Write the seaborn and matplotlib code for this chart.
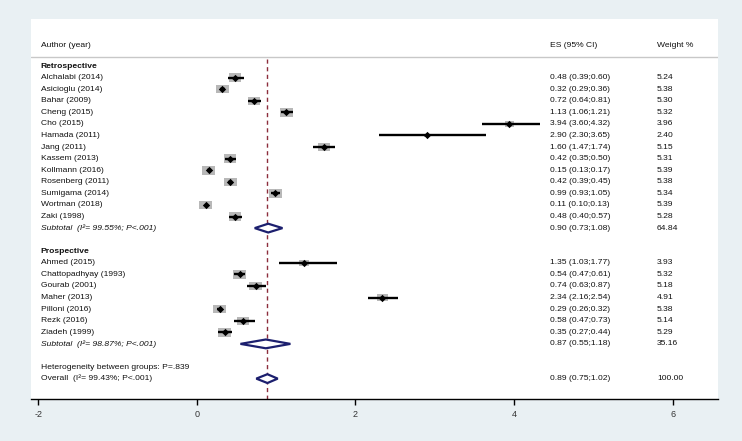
import numpy as np
import seaborn as sns
import matplotlib.pyplot as plt
from matplotlib.path import Path

# study rows
retro_names = ['Alchalabi (2014)', 'Asicioglu (2014)', 'Bahar (2009)', 'Cheng (2015)',
               'Cho (2015)', 'Hamada (2011)', 'Jang (2011)', 'Kassem (2013)',
               'Kollmann (2016)', 'Rosenberg (2011)', 'Sumigama (2014)',
               'Wortman (2018)', 'Zaki (1998)']
retro_es = [0.48, 0.32, 0.72, 1.13, 3.94, 2.90, 1.60, 0.42, 0.15, 0.42, 0.99, 0.11, 0.48]
retro_lo = [0.39, 0.29, 0.64, 1.06, 3.60, 2.30, 1.47, 0.35, 0.13, 0.39, 0.93, 0.10, 0.40]
retro_hi = [0.60, 0.36, 0.81, 1.21, 4.32, 3.65, 1.74, 0.50, 0.17, 0.45, 1.05, 0.13, 0.57]
retro_w = [5.24, 5.38, 5.30, 5.32, 3.96, 2.40, 5.15, 5.31, 5.39, 5.38, 5.34, 5.39, 5.28]

pro_names = ['Ahmed (2015)', 'Chattopadhyay (1993)', 'Gourab (2001)', 'Maher (2013)',
             'Pilloni (2016)', 'Rezk (2016)', 'Ziadeh (1999)']
pro_es = [1.35, 0.54, 0.74, 2.34, 0.29, 0.58, 0.35]
pro_lo = [1.03, 0.47, 0.63, 2.16, 0.26, 0.47, 0.27]
pro_hi = [1.77, 0.61, 0.87, 2.54, 0.32, 0.73, 0.44]
pro_w = [3.93, 5.32, 5.18, 4.91, 5.38, 5.14, 5.29]

# pooled estimates: label, es, lo, hi, weight
pooled_labels = ['Subtotal  (I\u00b2= 99.55%; P<.001)', 'Subtotal  (I\u00b2= 98.87%; P<.001)',
                 'Overall  (I\u00b2= 99.43%; P<.001)']
pooled_es = [0.90, 0.87, 0.89]
pooled_lo = [0.73, 0.55, 0.75]
pooled_hi = [1.08, 1.18, 1.02]
pooled_w = [64.84, 35.16, 100.00]

x_ticks = [-2, 0, 2, 4, 6]


def main():
    sns.set_style('white')
    plt.rcParams['font.family'] = ['Liberation Sans', 'DejaVu Sans']

    fig = plt.figure(figsize=(7.42, 4.41), dpi=100)
    fig.patch.set_facecolor('#e9f0f3')
    ax = fig.add_axes([31 / 742, 42 / 441, 687 / 742, 380 / 441])
    ax.set_facecolor('white')

    retro_rows = np.arange(1, 14)
    pro_rows = np.arange(17, 24)
    pooled_rows = [14, 24, 27]

    names = retro_names + pro_names
    es = np.array(retro_es + pro_es)
    lo = np.array(retro_lo + pro_lo)
    hi = np.array(retro_hi + pro_hi)
    w = np.array(retro_w + pro_w)
    rows = np.concatenate([retro_rows, pro_rows])

    txt = dict(fontsize=6.1, color='#111111', va='center')
    x_lab, x_es, x_w = -1.97, 4.45, 5.80

    # header
    ax.text(x_lab, -1.75, 'Author (year)', **txt)
    ax.text(x_es, -1.75, 'ES (95% CI)', **txt)
    ax.text(x_w, -1.75, 'Weight %', **txt)
    ax.axhline(-0.8, color='#c8c8c8', lw=1)

    # reference line at overall estimate
    ax.vlines(pooled_es[2], -0.6, 28.8, color='#8c2d3c', lw=1, linestyles=(0, (3, 2.5)))

    # weight boxes
    rect = Path([(-1.5, -1), (1.5, -1), (1.5, 1), (-1.5, 1), (-1.5, -1)],
                [Path.MOVETO, Path.LINETO, Path.LINETO, Path.LINETO, Path.CLOSEPOLY])
    ax.scatter(es, rows, s=(9.2 * w / 5.35) ** 2, marker=rect, color='#b8b8b8',
               linewidths=0, zorder=2)
    ax.hlines(rows, lo, hi, color='black', lw=1.7, zorder=3)
    sns.scatterplot(x=es, y=rows, marker='D', s=14, color='black', linewidth=0,
                    ax=ax, zorder=4)

    for r, n, e, l, h, ww in zip(rows, names, es, lo, hi, w):
        ax.text(x_lab, r, n, **txt)
        ax.text(x_es, r, f'{e:.2f} ({l:.2f};{h:.2f})', **txt)
        ax.text(x_w, r, f'{ww:.2f}', **txt)

    ax.text(x_lab, 0, 'Retrospective', fontweight='bold', **txt)
    ax.text(x_lab, 16, 'Prospective', fontweight='bold', **txt)
    ax.text(x_lab, 26, 'Heterogeneity between groups: P=.839', **txt)

    for i, (r, lab, e, l, h, ww) in enumerate(zip(pooled_rows, pooled_labels, pooled_es,
                                                  pooled_lo, pooled_hi, pooled_w)):
        dx = [l, e, h, e, l]
        dy = [r, r - 0.38, r, r + 0.38, r]
        ax.fill(dx, dy, facecolor='white', edgecolor='#1c1f6e', lw=1.6, zorder=5)
        style = 'italic' if i < 2 else 'normal'
        ax.text(x_lab, r, lab, style=style, **txt)
        ax.text(x_es, r, f'{e:.2f} ({l:.2f};{h:.2f})', **txt)
        ax.text(x_w, r, f'{ww:.2f}', **txt)

    ax.set_xlim(-2.09, 6.57)
    ax.set_ylim(28.76, -4.06)
    ax.set_yticks([])
    ax.set_xticks(x_ticks)
    ax.set_xticklabels([str(t) for t in x_ticks])
    ax.tick_params(axis='x', direction='out', length=4, width=1, color='black',
                   labelsize=6.5, labelcolor='#333333', pad=4, bottom=True)
    for s in ['top', 'left', 'right']:
        ax.spines[s].set_visible(False)
    ax.spines['bottom'].set_color('black')
    ax.spines['bottom'].set_linewidth(1)

    fig.savefig('out.png', dpi=100, facecolor=fig.get_facecolor())


if __name__ == "__main__":
    main()
